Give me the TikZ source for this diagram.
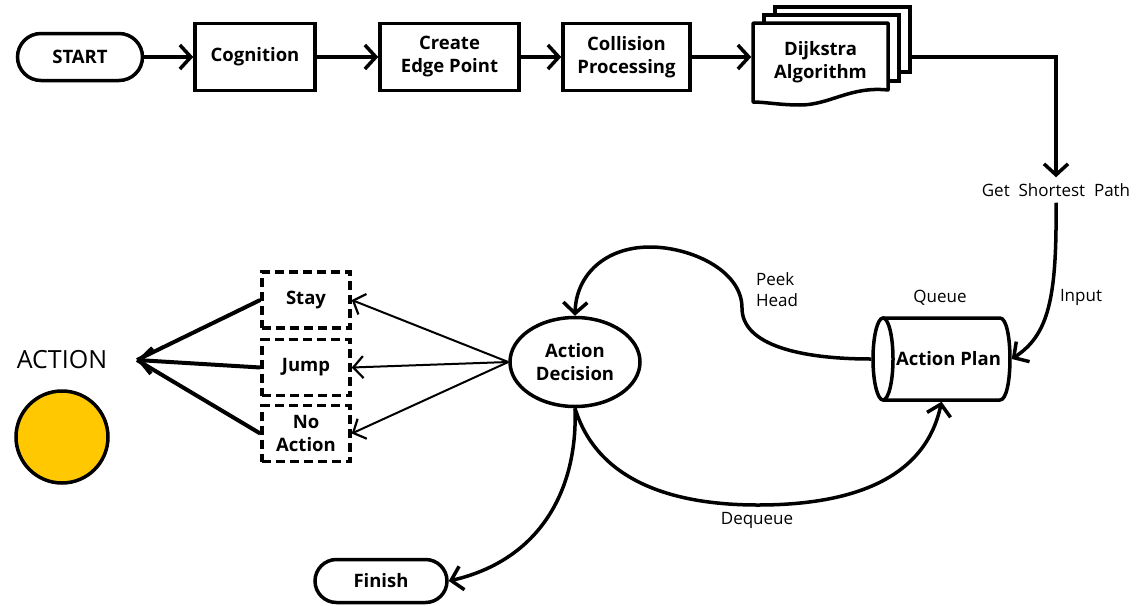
\documentclass[tikz,border=0pt]{standalone}
\usepackage{fontspec}
\setmainfont{Open Sans}
\usetikzlibrary{arrows.meta,shapes.geometric,shapes.misc}
\definecolor{actyellow}{RGB}{255,200,0}
\tikzset{
  base/.style={font=\fontsize{18.5}{23}\selectfont\bfseries, align=center, inner sep=0pt, line width=3.5pt},
  procbox/.style={base, draw, rectangle, minimum height=67pt},
  pill/.style={base, draw, rounded rectangle},
  choice/.style={base, draw, rectangle, dash pattern=on 9pt off 5pt, minimum width=88pt, minimum height=56pt},
  lbl/.style={font=\fontsize{17}{21}\selectfont, align=left, inner sep=0pt},
  arr/.style={line width=3.5pt, -{Straight Barb[length=11pt,width=24pt,line width=3.5pt]}},
  thinarr/.style={line width=2pt, -{Straight Barb[length=10pt,width=22pt,line width=2.2pt]}},
}
\begin{document}
\begin{tikzpicture}[x=1pt,y=-1pt]
\useasboundingbox[fill=white] (0,0) rectangle (1139,605);

% top row
\node[pill, minimum width=125pt, minimum height=47pt] (start) at (80,57) {START};
\node[procbox, minimum width=120pt] (cog) at (255,57) {Cognition};
\node[procbox, minimum width=139pt] (cep) at (449.5,57) {Create\\Edge Point};
\node[procbox, minimum width=127pt] (col) at (626.5,57) {Collision\\Processing};

% Dijkstra stacked documents
\draw[line width=3.5pt, fill=white] (775,7) rectangle (910,72);
\draw[line width=3.5pt, fill=white] (764,15) rectangle (899,81);
\draw[line width=3.5pt, fill=white, line join=round] (753,23) -- (888,23) -- (888,90)
  .. controls (850,86) and (830,105) .. (800,105)
  .. controls (780,105) and (765,102) .. (753,102) -- cycle;
\node[base, minimum width=135pt, minimum height=79pt] (dij) at (820.5,62) {Dijkstra\\Algorithm};
\coordinate (dijout) at (910,57);

\draw[arr] (start.east) -- (cog.west);
\draw[arr] (cog.east) -- (cep.west);
\draw[arr] (cep.east) -- (col.west);
\draw[arr] (col.east) -- (dij.west |- col.east);

\node[lbl] (gsp) at (1056,190) {Get\ \ Shortest\ \ Path};
\draw[arr] (dijout) -| ([yshift=6pt]gsp.north);

% action plan queue (cylinder)
\node[base, minimum width=137pt, minimum height=82pt] (ap) at (941.5,359) {\hspace*{14pt}Action Plan};
\draw[line width=3.5pt, line join=round] (883,318) -- (1000,318)
  .. controls (1013.3,318) and (1013.3,400) .. (1000,400) -- (883,400);
\draw[line width=3.5pt] (883,359) ellipse [x radius=10, y radius=41];
\node[lbl] (queue) at (940,298) {Queue};
\node[lbl] (input) at (1081,297) {Input};

\draw[arr] ([yshift=-6pt]gsp.south) .. controls (1057,300) and (1048,335) .. (ap.east);

% action decision
\node[base, draw, ellipse, minimum width=130pt, minimum height=89pt] (ad) at (575,362) {Action\\Decision};

\draw[arr] (ap.west) .. controls (800,359) and (742,345) .. (742,308)
  .. controls (742,270) and (690,247) .. (650,247)
  .. controls (605,247) and (576,275) .. (ad.north);
\node[lbl] (peek) at (777,290) {Peek\\Head};

\draw[arr] (ad.south) .. controls (600,490) and (690,505) .. (758,505)
  .. controls (850,505) and (925,480) .. (ap.south);
\node[lbl] (deq) at (757,520) {Dequeue};

\node[pill, minimum width=132pt, minimum height=43pt] (fin) at (381,581) {Finish};
\draw[arr] (ad.south) .. controls (578,490) and (540,560) .. (fin.east);

% choices
\node[choice] (stay) at (306,300) {Stay};
\node[choice] (jump) at (306,367.5) {Jump};
\node[choice] (noact) at (306,433.5) {No\\Action};

\draw[thinarr] (ad.west) -- (stay.east);
\draw[thinarr] (ad.west) -- (jump.east);
\draw[thinarr] (ad.west) -- (noact.east);

% action output
\node[font=\fontsize{25}{30}\selectfont, inner sep=0pt] (action) at (62,360) {ACTION};
\node[circle, draw, line width=3.5pt, fill=actyellow, minimum size=92pt, inner sep=0pt] (ball) at (62,437) {};
\coordinate (conv) at (137,360);
\draw[line width=4pt] (stay.west) -- (conv);
\draw[line width=4pt] (noact.west) -- (conv);
\draw[line width=4pt, -{Straight Barb[length=12pt,width=26pt,line width=4pt]}] (jump.west) -- (conv);
\end{tikzpicture}
\end{document}
